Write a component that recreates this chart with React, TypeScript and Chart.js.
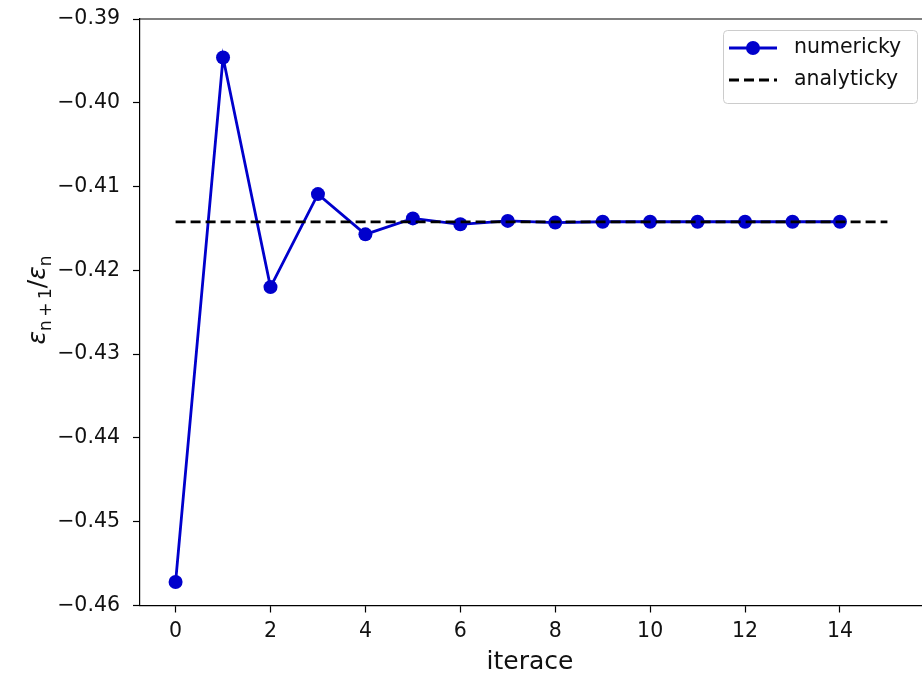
import React, { useEffect, useRef } from "react";
import { Chart, registerables } from "chart.js";

Chart.register(...registerables);

const iterations = [0, 1, 2, 3, 4, 5, 6, 7, 8, 9, 10, 11, 12, 13, 14];
const numericValues = [
  -0.4572, -0.3946, -0.422, -0.4109, -0.4157, -0.4138, -0.4145, -0.4141,
  -0.4143, -0.4142, -0.4142, -0.4142, -0.4142, -0.4142, -0.4142,
];
const analyticX = [0, 15];
const analyticValue = -0.41421;
const xTicks = [0, 2, 4, 6, 8, 10, 12, 14];
const yTicks = [-0.46, -0.45, -0.44, -0.43, -0.42, -0.41, -0.4, -0.39];
const seriesLabels = ["numericky", "analyticky"];
const xTitle = "iterace";

const FONT = "'DejaVu Sans', sans-serif";
const BLUE = "#0000cc";

const decorPlugin = {
  id: "decor",
  afterDraw(chart: any) {
    const ctx = chart.ctx as CanvasRenderingContext2D;
    const { left, right, top } = chart.chartArea;
    ctx.save();
    // top spine
    ctx.strokeStyle = "#000";
    ctx.lineWidth = 1.2;
    ctx.beginPath();
    ctx.moveTo(left, top);
    ctx.lineTo(right, top);
    ctx.stroke();

    // x title
    ctx.fillStyle = "#111";
    ctx.font = `25px ${FONT}`;
    ctx.textAlign = "center";
    ctx.textBaseline = "middle";
    ctx.fillText(xTitle, 530, 662);

    // y title: eps_{n+1}/eps_n rotated
    ctx.save();
    ctx.translate(45, 300);
    ctx.rotate(-Math.PI / 2);
    ctx.textAlign = "left";
    ctx.textBaseline = "alphabetic";
    const big = `italic 25px ${FONT}`;
    const small = `17px ${FONT}`;
    const parts: [string, string, number][] = [
      ["\u03b5", big, 0],
      ["n\u2009+\u20091", small, 6],
      ["/", `25px ${FONT}`, 0],
      ["\u03b5", big, 0],
      ["n", small, 6],
    ];
    let total = 0;
    for (const [t, f] of parts) {
      ctx.font = f;
      total += ctx.measureText(t).width;
    }
    let x = -total / 2;
    for (const [t, f, dy] of parts) {
      ctx.font = f;
      ctx.fillText(t, x, dy);
      x += ctx.measureText(t).width;
    }
    ctx.restore();

    // legend
    const lx = 723, ly = 30, lw = 194, lh = 73;
    ctx.fillStyle = "rgba(255,255,255,0.8)";
    ctx.strokeStyle = "#cccccc";
    ctx.lineWidth = 1;
    ctx.beginPath();
    (ctx as any).roundRect(lx + 0.5, ly + 0.5, lw, lh, 4);
    ctx.fill();
    ctx.stroke();

    const y1 = 48, y2 = 80;
    ctx.strokeStyle = BLUE;
    ctx.lineWidth = 2.8;
    ctx.beginPath();
    ctx.moveTo(729, y1);
    ctx.lineTo(777, y1);
    ctx.stroke();
    ctx.fillStyle = BLUE;
    ctx.beginPath();
    ctx.arc(753, y1, 7, 0, Math.PI * 2);
    ctx.fill();

    ctx.strokeStyle = "#000";
    ctx.setLineDash([10, 5]);
    ctx.beginPath();
    ctx.moveTo(729, y2);
    ctx.lineTo(777, y2);
    ctx.stroke();
    ctx.setLineDash([]);

    ctx.fillStyle = "#111";
    ctx.font = `20.5px ${FONT}`;
    ctx.textAlign = "left";
    ctx.textBaseline = "middle";
    ctx.fillText(seriesLabels[0], 794, y1);
    ctx.fillText(seriesLabels[1], 794, y2);
    ctx.restore();
  },
};

export default function App() {
  const ref = useRef<HTMLCanvasElement>(null);
  useEffect(() => {
    if (!ref.current) return;
    const chart = new Chart(ref.current, {
      type: "scatter",
      data: {
        datasets: [
          {
            label: seriesLabels[0],
            data: iterations.map((x, i) => ({ x, y: numericValues[i] })),
            showLine: true,
            borderColor: BLUE,
            backgroundColor: BLUE,
            borderWidth: 2.8,
            pointRadius: 7,
            pointBorderWidth: 0,
            pointHoverRadius: 7,
            order: 2,
          },
          {
            label: seriesLabels[1],
            data: analyticX.map((x) => ({ x, y: analyticValue })),
            showLine: true,
            borderColor: "#000",
            backgroundColor: "#000",
            borderWidth: 2.6,
            borderDash: [10, 5],
            pointRadius: 0,
            order: 1,
          },
        ],
      },
      options: {
        animation: false,
        responsive: false,
        devicePixelRatio: 1,
        layout: { padding: { left: 0, top: 19, right: 2, bottom: 0 } },
        plugins: {
          legend: { display: false },
          tooltip: { enabled: false },
          title: { display: false },
        },
        scales: {
          x: {
            type: "linear",
            min: -0.75,
            max: 15.75,
            afterBuildTicks: (s: any) => {
              s.ticks = xTicks.map((v) => ({ value: v }));
            },
            afterFit: (s: any) => {
              s.height = 76.5;
              s.paddingLeft = 0;
              s.paddingRight = 0;
            },
            grid: {
              drawOnChartArea: false,
              drawTicks: true,
              tickLength: 7,
              tickColor: "#000",
              tickWidth: 1.2,
            },
            border: { display: true, color: "#000", width: 1.2 },
            ticks: {
              color: "#111",
              font: { family: FONT, size: 20.5 },
              padding: 7,
              maxRotation: 0,
              callback: (v: any) => String(v),
            },
          },
          y: {
            type: "linear",
            min: -0.46,
            max: -0.39,
            afterBuildTicks: (s: any) => {
              s.ticks = yTicks.map((v) => ({ value: v }));
            },
            afterFit: (s: any) => {
              s.width = 140;
              s.paddingTop = 0;
              s.paddingBottom = 0;
            },
            grid: {
              drawOnChartArea: false,
              drawTicks: true,
              tickLength: 7,
              tickColor: "#000",
              tickWidth: 1.2,
            },
            border: { display: true, color: "#000", width: 1.2 },
            ticks: {
              color: "#111",
              font: { family: FONT, size: 20.5 },
              padding: 13,
              callback: (v: any) => Number(v).toFixed(2).replace("-", "\u2212"),
            },
          },
        },
      },
      plugins: [decorPlugin],
    });
    return () => chart.destroy();
  }, []);
  return (
    <div
      style={{
        position: "fixed",
        left: 0,
        top: 0,
        width: 922,
        height: 682,
        overflow: "hidden",
        background: "#fff",
      }}
    >
      <canvas ref={ref} width={930} height={682} style={{ width: 930, height: 682, display: "block" }} />
    </div>
  );
}
